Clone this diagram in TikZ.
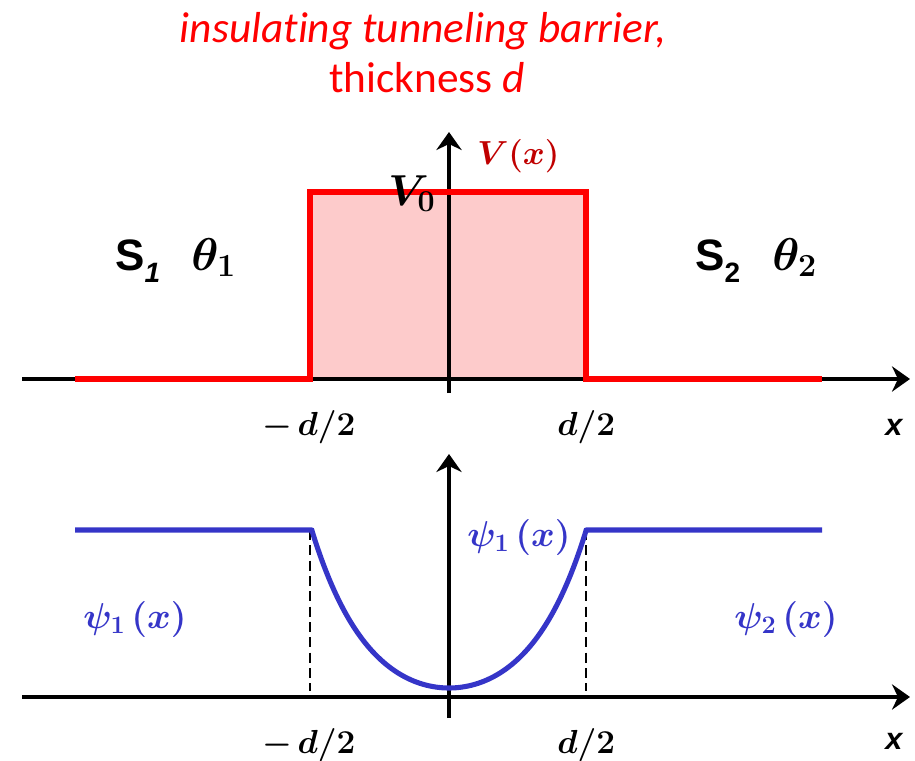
\documentclass[tikz,border=0pt]{standalone}
\usepackage{fix-cm}
\usepackage{bm}
\usepackage{fontspec}
\newfontfamily\calibri[Ligatures=NoCommon]{Carlito}
\newfontfamily\arial{Liberation Sans}
\usetikzlibrary{arrows.meta}
\definecolor{barred}{HTML}{FF0000}
\definecolor{vdark}{HTML}{C00000}
\definecolor{barfill}{HTML}{FDCBCB}
\definecolor{wblue}{HTML}{3535C8}
\begin{document}
\begin{tikzpicture}[x=0.75pt,y=-0.75pt,
  axisline/.style={line width=2.4pt,black,-{Stealth[length=13.5pt,width=19pt,inset=4.5pt]}},
  redline/.style={line width=4pt,barred,line join=miter},
  blueline/.style={line width=3.8pt,wblue,line join=round},
  guide/.style={line width=1.6pt,black,dash pattern=on 7.5pt off 4pt},
  titletext/.style={font=\calibri\fontsize{32.5}{38}\selectfont,text=barred,inner sep=0pt},
  mathlbl/.style={font=\fontsize{25}{30}\selectfont,inner sep=0pt},
  sidelbl/.style={font=\arial\bfseries\fontsize{33}{36}\selectfont,inner sep=0pt},
  axlbl/.style={font=\arial\bfseries\itshape\fontsize{23}{26}\selectfont,inner sep=0pt}]
\useasboundingbox (0,0) rectangle (915,761);
% ---------- top panel ----------
\coordinate (bl) at (310,379);
\coordinate (tr) at (586,192);
\fill[barfill] (bl) rectangle (tr);
\coordinate (a1s) at (22,379);
\coordinate (a1e) at (910,379);
\coordinate (v1s) at (449,393);
\coordinate (v1e) at (449,132);
\draw[axisline] (a1s) -- (a1e);
\draw[axisline] (v1s) -- (v1e);
\coordinate (r0) at (75,379);
\coordinate (r1) at (310,379);
\coordinate (r2) at (310,192);
\coordinate (r3) at (586,192);
\coordinate (r4) at (586,379);
\coordinate (r5) at (822,379);
\draw[redline] (r0) -- (r1) -- (r2) -- (r3) -- (r4) -- (r5);
% titles
\node[titletext] (t1) at (423,31) {\itshape insulating tunneling barrier,};
\node[titletext] (t2) at (427,78) {thickness \textit{d}};
% labels
\node[mathlbl,text=vdark,anchor=base west] (vx) at (477,164) {$\bm{V(x)}$};
\node[mathlbl,anchor=base west] (v0) at (388,205) {\scalebox{1.3}{$\bm{V_{\mathbf{0}}}$}};
\node[sidelbl,anchor=base west] (s1) at (115,270) {S\raisebox{-0.28em}{\fontsize{21}{22}\selectfont\itshape 1}};
\node[mathlbl,anchor=base west] (th1) at (191,270) {\scalebox{1.38}{$\bm{\theta_{\mathbf{1}}}$}};
\node[sidelbl,anchor=base west] (s2) at (695,270) {S\raisebox{-0.28em}{\fontsize{21}{22}\selectfont 2}};
\node[mathlbl,anchor=base west] (th2) at (772,270) {\scalebox{1.38}{$\bm{\theta_{\mathbf{2}}}$}};
\node[mathlbl,anchor=base west] (md1) at (262,435) {$\bm{-\,d/2}$};
\node[mathlbl,anchor=base west] (pd1) at (557,435) {$\bm{d/2}$};
\node[axlbl,anchor=base] (x1) at (894,435) {x};
% ---------- bottom panel ----------
\coordinate (a2s) at (22,697);
\coordinate (a2e) at (910,697);
\coordinate (v2s) at (449,718);
\coordinate (v2e) at (449,454);
\draw[axisline] (a2s) -- (a2e);
\draw[axisline] (v2s) -- (v2e);
\coordinate (g1t) at (310,530);
\coordinate (g1b) at (310,691);
\coordinate (g2t) at (586,530);
\coordinate (g2b) at (586,691);
\draw[guide] (g1t) -- (g1b);
\draw[guide] (g2t) -- (g2b);
\coordinate (w0) at (75,530);
\coordinate (w1) at (312,530);
\coordinate (w2) at (586,530);
\coordinate (w3) at (822,530);
\draw[blueline] (w0) -- (w1) -- plot[domain=-137:137,samples=90,smooth] ({449+\x},{688-37.6*(cosh(0.017*\x)-1)}) -- (w2) -- (w3);
\node[mathlbl,text=wblue,anchor=base west] (p1l) at (83,628) {\scalebox{1.08}{$\bm{\psi_{\mathbf{1}}\,(x)}$}};
\node[mathlbl,text=wblue,anchor=base west] (p1m) at (467,546) {\scalebox{1.08}{$\bm{\psi_{\mathbf{1}}\,(x)}$}};
\node[mathlbl,text=wblue,anchor=base west] (p2r) at (734,628) {\scalebox{1.08}{$\bm{\psi_{\mathbf{2}}\,(x)}$}};
\node[mathlbl,anchor=base west] (md2) at (262,753) {$\bm{-\,d/2}$};
\node[mathlbl,anchor=base west] (pd2) at (557,753) {$\bm{d/2}$};
\node[axlbl,anchor=base] (x2) at (894,749) {x};
\end{tikzpicture}
\end{document}
